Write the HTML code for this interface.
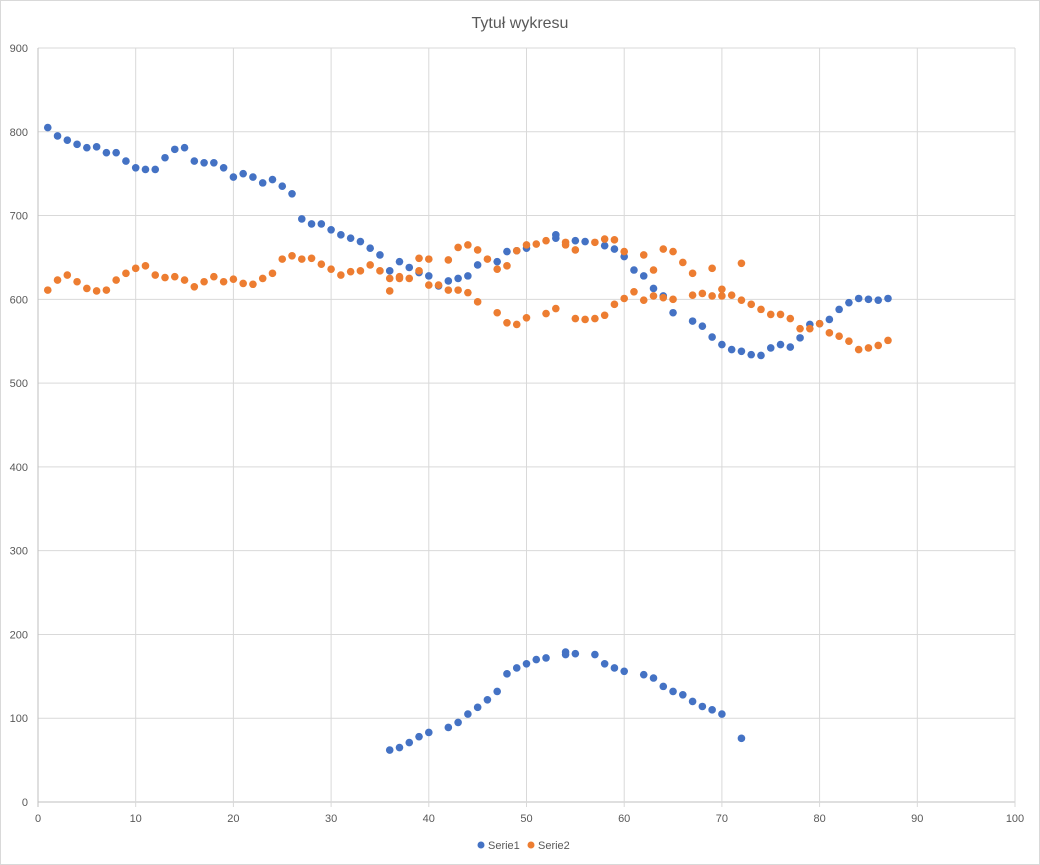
<!DOCTYPE html>
<html><head><meta charset="utf-8"><style>
body{margin:0;background:#fff;}
#wrap{position:relative;width:1040px;height:865px;overflow:hidden;}
svg{display:block;font-family:"Liberation Sans",sans-serif;}
</style></head><body>
<div id="wrap">
<svg id="chart" width="1040" height="865">
<rect x="0.5" y="0.5" width="1039" height="864" fill="#fff" stroke="#d9d9d9"/>
<text x="520" y="28" text-anchor="middle" font-size="16" fill="#595959">Tytuł wykresu</text>
<g id="grid"></g><g id="ticks"></g><g id="marks"></g>
<g>
<circle cx="481" cy="845" r="3.5" fill="#4472C4"/>
<text x="488" y="849" font-size="11" fill="#595959">Serie1</text>
<circle cx="531" cy="845" r="3.5" fill="#ED7D31"/>
<text x="538" y="849" font-size="11" fill="#595959">Serie2</text>
</g>
</svg>
</div>
<script>
const xTicks=[0,10,20,30,40,50,60,70,80,90,100];
const yTicks=[0,100,200,300,400,500,600,700,800,900];
const s1x=[1,2,3,4,5,6,7,8,9,10,11,12,13,14,15,16,17,18,19,20,21,22,23,24,25,26,27,28,29,30,31,32,33,34,35,36,37,38,39,40,41,42,43,44,45,47,48,49,50,53,53,55,56,58,59,60,61,62,63,64,65,67,68,69,70,71,72,73,74,75,76,77,78,79,80,81,82,83,84,85,86,87,
36,37,38,39,40,42,43,44,45,46,47,48,49,50,51,52,54,54,55,57,58,59,60,62,63,64,65,66,67,68,69,70,72];
const s1y=[805,795,790,785,781,782,775,775,765,757,755,755,769,779,781,765,763,763,757,746,750,746,739,743,735,726,696,690,690,683,677,673,669,661,653,634,645,638,632,628,616,622,625,628,641,645,657,658,661,677,673,670,669,664,660,651,635,628,613,604,584,574,568,555,546,540,538,534,533,542,546,543,554,570,571,576,588,596,601,600,599,601,
62,65,71,78,83,89,95,105,113,122,132,153,160,165,170,172,179,176,177,176,165,160,156,152,148,138,132,128,120,114,110,105,76];
const s2x=[1,2,3,4,5,6,7,8,9,10,11,12,13,14,15,16,17,18,19,20,21,22,23,24,25,26,27,28,29,30,31,32,33,34,35,36,36,37,37,38,39,39,40,40,41,42,42,43,43,44,44,45,45,46,47,47,48,48,49,49,50,50,51,52,52,53,54,54,55,55,56,57,57,58,58,59,59,60,60,61,62,62,63,63,64,64,65,65,66,67,67,68,69,69,70,70,71,72,72,73,74,75,76,77,78,79,80,81,82,83,84,85,86,87];
const s2y=[611,623,629,621,613,610,611,623,631,637,640,629,626,627,623,615,621,627,621,624,619,618,625,631,648,652,648,649,642,636,629,633,634,641,634,625,610,627,625,625,649,634,648,617,617,647,611,662,611,665,608,659,597,648,636,584,640,572,658,570,665,578,666,670,583,589,668,665,659,577,576,668,577,672,581,671,594,657,601,609,653,599,635,604,660,602,657,600,644,631,605,607,637,604,604,612,605,643,599,594,588,582,582,577,565,565,571,560,556,550,540,542,545,551];
const L=38,R=1015,T=48,B=802;
const xs=v=>L+(v-0)/(100-0)*(R-L);
const ys=v=>B-(v-0)/(900-0)*(B-T);
const NS='http://www.w3.org/2000/svg';
const grid=document.getElementById('grid'),ticks=document.getElementById('ticks'),marks=document.getElementById('marks');
yTicks.forEach(t=>{
 const l=document.createElementNS(NS,'line');
 l.setAttribute('x1',L);l.setAttribute('x2',R);l.setAttribute('y1',ys(t));l.setAttribute('y2',ys(t));
 l.setAttribute('stroke',t===0?'#bfbfbf':'#d9d9d9');l.setAttribute('stroke-width','1');
 
 
 grid.appendChild(l);
 const tx=document.createElementNS(NS,'text');
 tx.setAttribute('x',L-10);tx.setAttribute('y',ys(t)+4);tx.setAttribute('text-anchor','end');
 tx.setAttribute('font-size','11');tx.setAttribute('fill','#595959');tx.textContent=t;
 
 
 ticks.appendChild(tx);
});
xTicks.forEach(t=>{
 const l=document.createElementNS(NS,'line');
 l.setAttribute('x1',xs(t));l.setAttribute('x2',xs(t));l.setAttribute('y1',T);l.setAttribute('y2',B+5);
 l.setAttribute('stroke',t===0?'#bfbfbf':'#d9d9d9');l.setAttribute('stroke-width','1');
 
 
 grid.appendChild(l);
 const tx=document.createElementNS(NS,'text');
 tx.setAttribute('x',xs(t));tx.setAttribute('y',B+20);tx.setAttribute('text-anchor','middle');
 tx.setAttribute('font-size','11');tx.setAttribute('fill','#595959');tx.textContent=t;
 
 
 ticks.appendChild(tx);
});
function draw(xa,ya,col,name){
 xa.forEach((x,i)=>{
  const c=document.createElementNS(NS,'circle');
  c.setAttribute('cx',xs(x));c.setAttribute('cy',ys(ya[i]));c.setAttribute('r','3.8');c.setAttribute('fill',col);
  
  
  marks.appendChild(c);
 });
}
draw(s1x,s1y,'#4472C4','serie1-point');
draw(s2x,s2y,'#ED7D31','serie2-point');
</script>
</body></html>
